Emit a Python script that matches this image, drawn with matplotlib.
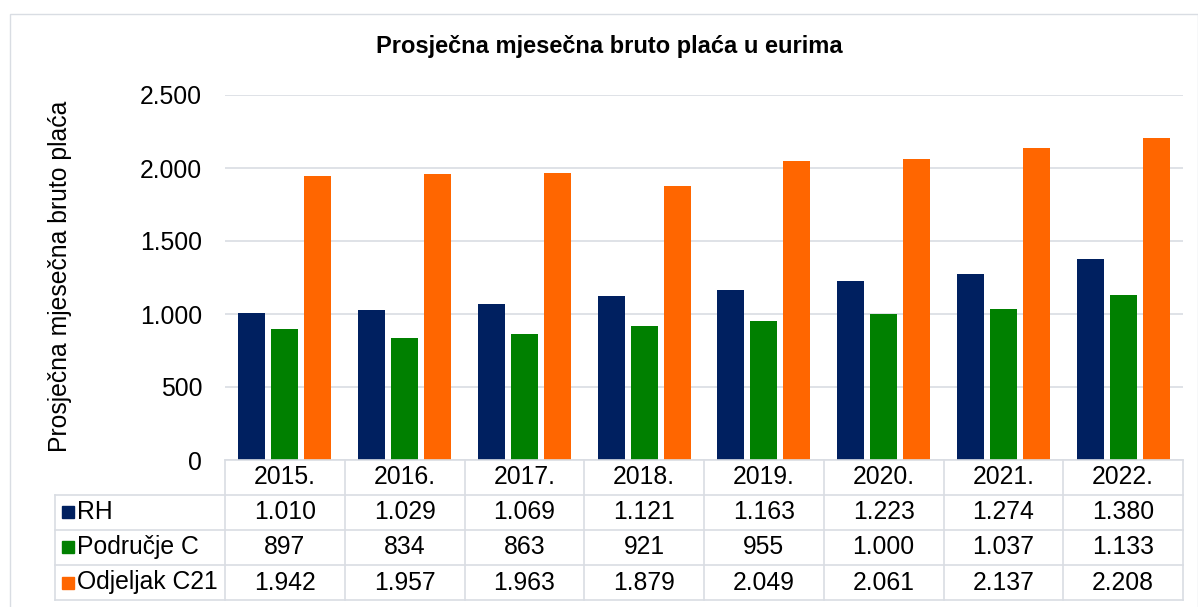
import matplotlib.pyplot as plt
from matplotlib.patches import Rectangle
import numpy as np

plt.rcParams['font.family'] = ['Liberation Sans', 'DejaVu Sans']

years = ['2015.', '2016.', '2017.', '2018.', '2019.', '2020.', '2021.', '2022.']
series_names = ['RH', 'Područje C', 'Odjeljak C21']
rh = [1010, 1029, 1069, 1121, 1163, 1223, 1274, 1380]
podrucje_c = [897, 834, 863, 921, 955, 1000, 1037, 1133]
odjeljak_c21 = [1942, 1957, 1963, 1879, 2049, 2061, 2137, 2208]
colors = ['#002060', '#008000', '#FF6600']

FS = 17.8


def fmt(v):
    # thousands separator with a dot
    return '{:,}'.format(v).replace(',', '.')


W, H = 1198, 607
fig = plt.figure(figsize=(W / 100, H / 100), dpi=100)

# pixel -> figure fraction helpers
def fx(px):
    return px / W

def fy(py):
    return 1 - py / H

# outer chart border
fig.patches.append(Rectangle((fx(9.5), fy(640)), fx(1188), fy(14) - fy(640),
                             transform=fig.transFigure, fill=False,
                             edgecolor='#D9DDE3', linewidth=1))

left, right, top, bottom = 225, 1183, 95, 460
ax = fig.add_axes([fx(left), fy(bottom), fx(right - left), fy(top) - fy(bottom)])

x = np.arange(len(years))
w = 0.225
off = 0.275
for i, (vals, c) in enumerate(zip([rh, podrucje_c, odjeljak_c21], colors)):
    ax.bar(x + (i - 1) * off, vals, width=w, color=c, zorder=3)

ax.set_xlim(-0.5, len(years) - 0.5)
ax.set_ylim(0, 2500)
ax.set_yticks(range(0, 2501, 500))
ax.set_yticklabels([fmt(v) for v in range(0, 2501, 500)], fontsize=FS)
ax.set_xticks([])
ax.tick_params(axis='y', length=0, pad=16.5)
ax.grid(axis='y', color='#D9DDE3', linewidth=1.2, zorder=0)
for s in ax.spines.values():
    s.set_visible(False)

fig.text(fx(609), fy(47), 'Prosječna mjesečna bruto plaća u eurima',
         ha='center', va='center', fontsize=17, fontweight='bold')
fig.text(fx(60), fy(276), 'Prosječna mjesečna bruto plaća', rotation=90,
         ha='center', va='center', fontsize=FS)

# data table below the chart
line_c = '#D9DDE3'
rows_y = [460, 494.5, 529.5, 565, 600]
tab_left = 55
col_w = (right - left) / len(years)
lk = dict(color=line_c, linewidth=1.2, transform=fig.transFigure)

fig.add_artist(plt.Line2D([fx(left), fx(right)], [fy(rows_y[0])] * 2, **lk))
for yy in rows_y[1:]:
    fig.add_artist(plt.Line2D([fx(tab_left), fx(right)], [fy(yy)] * 2, **lk))
for j in range(len(years) + 1):
    xx = left + j * col_w
    fig.add_artist(plt.Line2D([fx(xx)] * 2, [fy(rows_y[0]), fy(rows_y[-1])], **lk))
fig.add_artist(plt.Line2D([fx(tab_left)] * 2, [fy(rows_y[1]), fy(rows_y[-1])], **lk))

for j, yr in enumerate(years):
    cx = left + (j + 0.5) * col_w
    fig.text(fx(cx), fy((rows_y[0] + rows_y[1]) / 2), yr,
             ha='center', va='center', fontsize=FS)

for r, (name, vals, c) in enumerate(zip(series_names, [rh, podrucje_c, odjeljak_c21], colors)):
    cy = (rows_y[r + 1] + rows_y[r + 2]) / 2
    fig.patches.append(Rectangle((fx(62), fy(cy + 6)), fx(12), fy(cy - 6) - fy(cy + 6),
                                 transform=fig.transFigure, color=c))
    fig.text(fx(77), fy(cy), name, ha='left', va='center', fontsize=FS)
    for j, v in enumerate(vals):
        cx = left + (j + 0.5) * col_w
        fig.text(fx(cx), fy(cy), fmt(v), ha='center', va='center', fontsize=FS)

fig.savefig('out.png', dpi=100)
